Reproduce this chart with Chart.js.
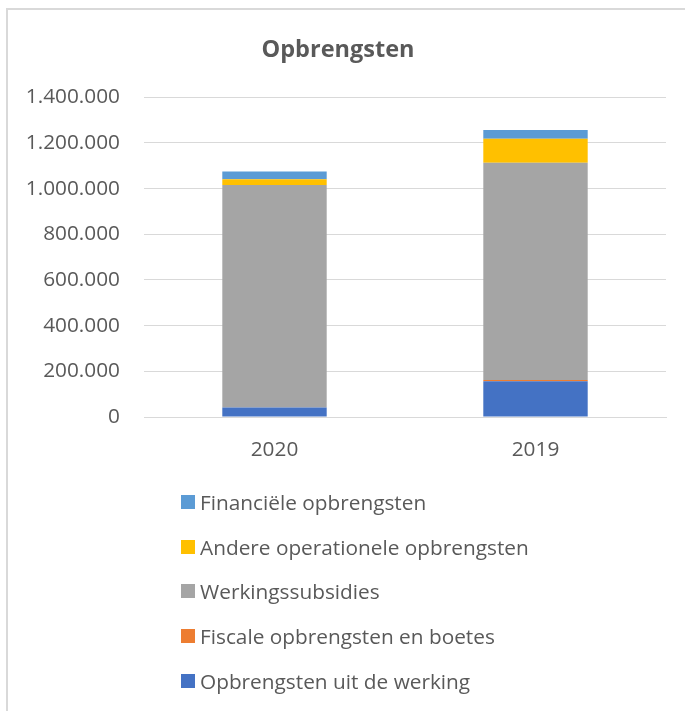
<!DOCTYPE html>
<html>
<head>
<meta charset="utf-8">
<script src="https://cdn.jsdelivr.net/npm/chart.js@4"></script>
<style>
  html, body { margin: 0; padding: 0; background: #fff; width: 685px; height: 711px; overflow: hidden; }
  #wrap { position: relative; width: 685px; height: 711px; }
  #frame { position: absolute; left: 6px; top: 8px; width: 760px; height: 780px; border: 2px solid #d9d9d9; box-sizing: border-box; }
  canvas { position: absolute; left: 0; top: 0; }
  #legend { position: absolute; left: 181px; top: 480px; font-family: "Open Sans", sans-serif; font-size: 20.8px; color: #595959; }
  .item { height: 44.6px; display: flex; align-items: center; white-space: nowrap; }
  .box { width: 14px; height: 14px; margin-right: 5px; flex: none; }
</style>
</head>
<body>
<div id="wrap">
  <div id="frame"></div>
  <canvas id="c" width="685" height="711"></canvas>
  <div id="legend"></div>
</div>
<script>
const categories = ['2020', '2019'];
const opbrengstenUitDeWerking = [42000, 157000];
const fiscaleOpbrengstenEnBoetes = [0, 5000];
const werkingssubsidies = [974000, 951000];
const andereOperationeleOpbrengsten = [25000, 105000];
const financieleOpbrengsten = [34000, 38000];
const yTickLabels = ['0', '200.000', '400.000', '600.000', '800.000', '1.000.000', '1.200.000', '1.400.000'];

const FONT = '"Open Sans", sans-serif';
const TEXT = '#595959';

const chart = new Chart(document.getElementById('c'), {
  type: 'bar',
  data: {
    labels: categories,
    datasets: [
      { label: 'Opbrengsten uit de werking', data: opbrengstenUitDeWerking, backgroundColor: '#4472C4' },
      { label: 'Fiscale opbrengsten en boetes', data: fiscaleOpbrengstenEnBoetes, backgroundColor: '#ED7D31' },
      { label: 'Werkingssubsidies', data: werkingssubsidies, backgroundColor: '#A5A5A5' },
      { label: 'Andere operationele opbrengsten', data: andereOperationeleOpbrengsten, backgroundColor: '#FFC000' },
      { label: 'Financiële opbrengsten', data: financieleOpbrengsten, backgroundColor: '#5B9BD5' }
    ]
  },
  options: {
    responsive: false,
    devicePixelRatio: 1,
    animation: false,
    datasets: { bar: { categoryPercentage: 1, barPercentage: 0.4, borderWidth: 0 } },
    layout: { padding: { left: 10, right: 19, top: 0, bottom: 227 } },
    plugins: {
      legend: { display: false },
      tooltip: { enabled: false },
      title: {
        display: true,
        text: 'Opbrengsten',
        color: TEXT,
        font: { family: FONT, size: 23.5, weight: 'bold' },
        padding: { top: 36, bottom: 33 }
      }
    },
    scales: {
      x: {
        stacked: true,
        grid: { display: false, drawTicks: false },
        border: { display: true, color: '#d9d9d9', width: 1 },
        ticks: { color: TEXT, font: { family: FONT, size: 20.8 }, padding: 21 }
      },
      y: {
        stacked: true,
        min: 0,
        max: 1400000,
        afterFit: (s) => { s.width = 134; },
        grid: { color: '#d9d9d9', lineWidth: 1, drawTicks: false },
        border: { display: false },
        ticks: {
          stepSize: 200000,
          color: TEXT,
          font: { family: FONT, size: 20.8 },
          padding: 24,
          callback: (v, i) => yTickLabels[i]
        }
      }
    }
  }
});

const legendEl = document.getElementById('legend');
chart.data.datasets.slice().reverse().forEach(ds => {
  const item = document.createElement('div');
  item.className = 'item';
  const box = document.createElement('span');
  box.className = 'box';
  box.style.background = ds.backgroundColor;
  const txt = document.createElement('span');
  txt.textContent = ds.label;
  item.appendChild(box);
  item.appendChild(txt);
  legendEl.appendChild(item);
});
</script>
</body>
</html>
